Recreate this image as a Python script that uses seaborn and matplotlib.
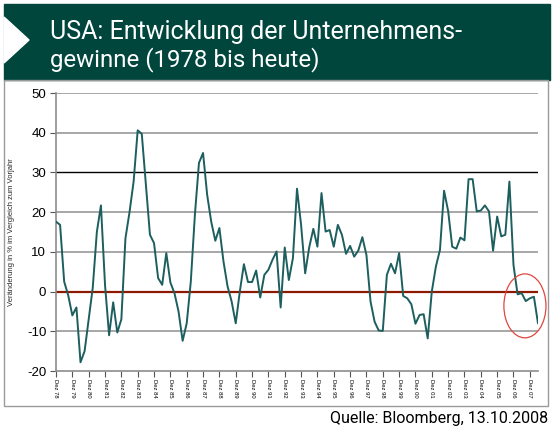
import matplotlib
matplotlib.use("Agg")
import matplotlib.pyplot as plt
import seaborn as sns
import pandas as pd
from matplotlib.patches import Rectangle, Polygon, Ellipse

# Quartalswerte, Veränderung in % zum Vorjahr (Dez 78 .. Jun 08)
werte = [
    17.6, 16.8, 2.5, -1.0, -6.0, -4.0, -17.8, -15.0, -7.0, 1.0,
    15.0, 21.7, 1.7, -11.0, -2.7, -10.3, -7.0, 13.4, 20.0, 27.7,
    40.6, 39.7, 27.0, 14.3, 12.2, 3.4, 1.7, 9.7, 2.3, -0.4,
    -5.0, -12.4, -8.0, 2.5, 19.3, 32.4, 34.9, 24.4, 17.6, 12.8,
    16.0, 7.6, 1.3, -2.5, -8.0, 0.0, 6.9, 2.4, 2.4, 5.3,
    -1.5, 4.2, 5.5, 8.0, 10.1, -4.0, 11.1, 2.9, 8.4, 25.9,
    16.8, 4.6, 11.2, 15.8, 11.3, 24.8, 15.1, 15.5, 11.3, 16.8,
    14.3, 9.5, 11.5, 8.8, 10.3, 13.7, 9.2, -2.5, -7.6, -9.8,
    -9.9, 4.2, 7.0, 4.6, 9.7, -1.1, -1.7, -3.2, -8.1, -5.9,
    -5.7, -11.8, 0.0, 6.3, 10.5, 25.4, 20.3, 11.3, 10.8, 13.6,
    12.9, 28.3, 28.3, 20.2, 20.4, 21.7, 20.2, 10.3, 18.9, 13.9,
    14.3, 27.7, 6.7, -0.7, -0.4, -2.4, -1.7, -1.3, -8.0,
]
jahre = ["78", "79", "80", "81", "82", "83", "84", "85", "86", "87",
         "88", "89", "90", "91", "92", "93", "94", "95", "96", "97",
         "98", "99", "00", "01", "02", "03", "04", "05", "06", "07"]
tick_labels = ["Dez " + j for j in jahre]
y_ticks = [-20, -10, 0, 10, 20, 30, 40, 50]

titel_1 = "USA: Entwicklung der Unternehmens-"
titel_2 = "gewinne (1978 bis heute)"
quelle = "Quelle: Bloomberg, 13.10.2008"
y_label = "Veränderung in % im Vergleich zum Vorjahr"

df = pd.DataFrame({"quartal": range(len(werte)), "wert": werte})

sns.set_style("white")
plt.rcParams['font.family'] = ['Liberation Sans', 'DejaVu Sans']

W, H = 555, 436
fig = plt.figure(figsize=(5.55, 4.36), dpi=100)


def fx(x):
    return x / W


def fy(y):
    return 1 - y / H


# header band + arrow
fig.patches.append(Rectangle((fx(4), fy(80)), fx(550) - fx(4), fy(4) - fy(80),
                             transform=fig.transFigure, color="#00463d", zorder=0))
fig.patches.append(Polygon([(fx(4), fy(17)), (fx(29), fy(40)), (fx(4), fy(63))],
                           closed=True, transform=fig.transFigure, color="white", zorder=1))
# grey frame round the chart
fig.patches.append(Rectangle((fx(4), fy(406)), fx(548) - fx(4), fy(80) - fy(406),
                             transform=fig.transFigure, fill=False, edgecolor="#9a9a9a",
                             lw=1.0, zorder=0))

narrow = dict(family=['Liberation Sans Narrow', 'Roboto', 'DejaVu Sans'], fontstretch='condensed')
t1 = fig.text(fx(50), fy(39), titel_1, color="white", fontsize=20, va="baseline", **narrow)
t2 = fig.text(fx(50), fy(66), titel_2, color="white", fontsize=20, va="baseline", **narrow)
tq = fig.text(fx(548), fy(423), quelle, color="black", fontsize=13, ha="right",
              va="baseline", **narrow)

ax = fig.add_axes([fx(56), fy(371), fx(538) - fx(56), fy(93) - fy(371)])

for v in y_ticks:
    if v == 0:
        ax.axhline(v, color="#8b1a00", lw=1.6, zorder=1)
    elif v == 30:
        ax.axhline(v, color="black", lw=1.0, zorder=1)
    elif v > -20:
        ax.axhline(v, color="#a0a0a0", lw=1.3, zorder=1)

sns.lineplot(data=df, x="quartal", y="wert", ax=ax, color="#1d5e5e", lw=1.4, zorder=3)

ax.add_patch(Ellipse((114.8, -3.6), 10.3, 16.1, fill=False, edgecolor="#e0463e",
                     lw=0.9, clip_on=False, zorder=4))

ax.set_xlim(0, 118)
ax.set_ylim(-20, 50)
ax.set_yticks(y_ticks)
ax.set_yticklabels([str(v) for v in y_ticks], fontsize=9.5)
ax.set_xticks(range(0, 4 * len(tick_labels), 4))
ax.set_xticklabels(tick_labels, rotation=-90, fontsize=4.2)
ax.set_xlabel("")
ax.set_ylabel(y_label, fontsize=5.5)
ax.yaxis.set_label_coords(-0.085, 0.5)

for s in ["top", "right"]:
    ax.spines[s].set_visible(False)
for s in ["left", "bottom"]:
    ax.spines[s].set_color("#8c8c8c")
    ax.spines[s].set_linewidth(1.2)
ax.tick_params(axis="both", direction="out", length=4, width=0.8, color="#555555",
               labelcolor="black", bottom=True, left=True)
ax.tick_params(axis="y", pad=3)
ax.tick_params(axis="x", pad=2)
ax.set_facecolor("white")

# squeeze the heading texts to the widths seen in the original
fig.canvas.draw()
r = fig.canvas.get_renderer()
for t, target in [(t1, 410), (t2, 268), (tq, 218)]:
    w = t.get_window_extent(r).width
    if w > target:
        t.set_fontsize(t.get_fontsize() * target / w)

fig.savefig("out.png", dpi=100)
